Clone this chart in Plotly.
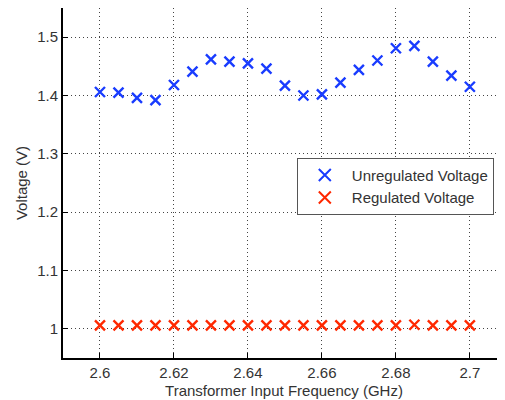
import plotly.graph_objects as go

freq = [2.600, 2.605, 2.610, 2.615, 2.620, 2.625, 2.630, 2.635, 2.640, 2.645, 2.650,
        2.655, 2.660, 2.665, 2.670, 2.675, 2.680, 2.685, 2.690, 2.695, 2.700]
unregulated = [1.406, 1.405, 1.396, 1.392, 1.418, 1.441, 1.462, 1.458, 1.455, 1.446, 1.417,
               1.400, 1.402, 1.422, 1.444, 1.460, 1.481, 1.485, 1.458, 1.434, 1.415]
regulated = [1.006, 1.006, 1.006, 1.006, 1.006, 1.006, 1.006, 1.006, 1.006, 1.006, 1.006,
             1.006, 1.006, 1.006, 1.006, 1.006, 1.006, 1.007, 1.006, 1.006, 1.006]
x_ticks = [2.6, 2.62, 2.64, 2.66, 2.68, 2.7]
y_ticks = [1.0, 1.1, 1.2, 1.3, 1.4, 1.5]
y_tick_text = ["1", "1.1", "1.2", "1.3", "1.4", "1.5"]

fig = go.Figure()
fig.add_trace(go.Scatter(
    x=freq, y=unregulated, mode="markers", name="Unregulated Voltage",
    marker=dict(symbol="x-thin-open", size=10, color="rgb(25,60,255)",
                line=dict(width=2.4, color="rgb(25,60,255)"))))
fig.add_trace(go.Scatter(
    x=freq, y=regulated, mode="markers", name="Regulated Voltage",
    marker=dict(symbol="x-thin-open", size=10, color="rgb(255,40,0)",
                line=dict(width=2.4, color="rgb(255,40,0)"))))

font = dict(family="Liberation Sans, Arial, sans-serif", size=15, color="#333333")
fig.update_layout(
    width=497, height=392,
    margin=dict(l=55, r=0, t=0, b=42),
    plot_bgcolor="white", paper_bgcolor="white",
    font=font,
    showlegend=True,
    legend=dict(x=0.529, y=0.572, xanchor="left", yanchor="top",
                bordercolor="#555555", borderwidth=1, bgcolor="white",
                font=dict(family="Liberation Sans, Arial, sans-serif", size=15, color="#333333"),
                itemsizing="constant", itemwidth=44, tracegroupgap=0),
)
grid = dict(showgrid=True, gridcolor="#444444", griddash="1px 3px", gridwidth=1,
            showline=True, linecolor="black", linewidth=2,
            ticks="inside", ticklen=5, tickcolor="black", zeroline=False)
fig.update_xaxes(
    range=[2.59, 2.7095], tickvals=x_ticks, ticktext=[str(v) for v in x_ticks],
    title=dict(text="Transformer Input Frequency (GHz)", standoff=5, font=font),
    **grid,
)
fig.update_yaxes(
    range=[0.95, 1.55], tickvals=y_ticks, ticktext=y_tick_text,
    title=dict(text="Voltage (V)", standoff=6, font=font),
    **grid,
)
fig.write_html("out.html")
